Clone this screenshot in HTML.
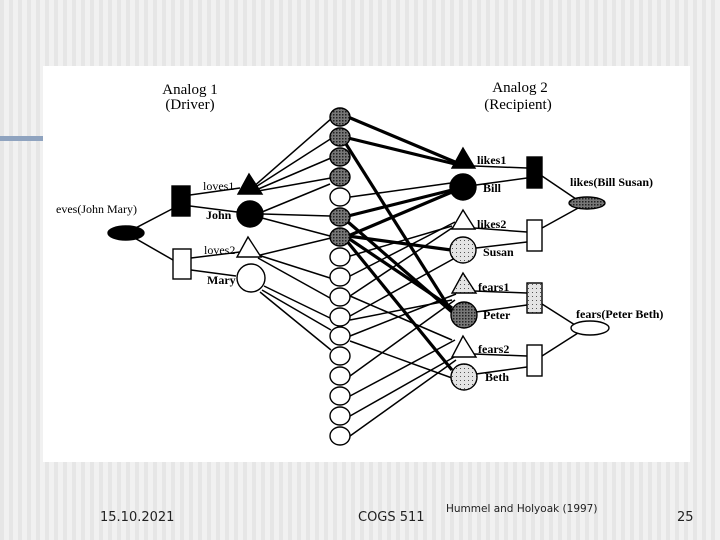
<!DOCTYPE html>
<html><head><style>
html,body{margin:0;padding:0;}
body{width:720px;height:540px;overflow:hidden;position:relative;background:#efefef;
background-image:repeating-linear-gradient(90deg,#e6e6e6 0 4px,#f1f1f1 4px 9px);}
.ft{position:absolute;font-family:"DejaVu Sans","Liberation Sans",sans-serif;color:#222;}
</style></head><body>
<div style="position:absolute;left:0;top:136px;width:43px;height:5px;background:#8fa3bf"></div>
<svg style="position:absolute;left:0;top:0" width="720" height="540" viewBox="0 0 720 540">
<defs>
<pattern id="h" width="3" height="3" patternUnits="userSpaceOnUse"><rect width="3" height="3" fill="#777"/><rect width="1.5" height="1.5" fill="#222"/></pattern>
<pattern id="d" width="4" height="4" patternUnits="userSpaceOnUse"><rect width="4" height="4" fill="#e4e4e4"/><rect width="1" height="1" fill="#555"/></pattern>
</defs>
<rect x="43" y="66" width="647" height="396" fill="#fff"/>
<g font-family="Liberation Serif,serif" font-size="15" text-anchor="middle" fill="#000">
<text x="190" y="94">Analog 1</text><text x="190" y="109">(Driver)</text>
<text x="520" y="92">Analog 2</text><text x="518" y="109">(Recipient)</text>
</g>
<g stroke="#000" stroke-width="1.5" fill="none">
<line x1="126" y1="233" x2="172" y2="209"/><line x1="126" y1="233" x2="173" y2="260"/>
<line x1="190" y1="195" x2="240" y2="188"/><line x1="190" y1="206" x2="237" y2="212"/>
<line x1="191" y1="258" x2="240" y2="252"/><line x1="191" y1="270" x2="236" y2="276"/>
<line x1="252" y1="188" x2="332" y2="118"/><line x1="254" y1="188" x2="332" y2="138"/>
<line x1="256" y1="190" x2="331" y2="158"/><line x1="258" y1="191" x2="331" y2="178"/>
<line x1="262" y1="212" x2="330" y2="184"/><line x1="263" y1="214" x2="330" y2="216"/><line x1="262" y1="218" x2="330" y2="236"/>
<line x1="258" y1="255" x2="330" y2="278"/><line x1="258" y1="258" x2="330" y2="298"/><line x1="256" y1="256" x2="331" y2="238"/>
<line x1="262" y1="290" x2="331" y2="330"/><line x1="260" y1="292" x2="331" y2="350"/><line x1="264" y1="286" x2="330" y2="318"/>
<line x1="350" y1="197" x2="451" y2="183"/>
<line x1="350" y1="276" x2="455" y2="222"/><line x1="350" y1="296" x2="455" y2="226"/>
<line x1="350" y1="316" x2="455" y2="258"/><line x1="350" y1="336" x2="456" y2="294"/>
<line x1="350" y1="376" x2="455" y2="300"/><line x1="350" y1="396" x2="455" y2="340"/>
<line x1="350" y1="416" x2="456" y2="356"/><line x1="350" y1="436" x2="456" y2="360"/>
<line x1="350" y1="256" x2="452" y2="226"/>
<line x1="350" y1="296" x2="452" y2="340"/><line x1="350" y1="341" x2="452" y2="378"/>
<line x1="350" y1="320" x2="452" y2="300"/>
<line x1="474" y1="166" x2="527" y2="168"/><line x1="476" y1="185" x2="527" y2="178"/>
<line x1="474" y1="228" x2="527" y2="232"/><line x1="476" y1="248" x2="527" y2="242"/>
<line x1="474" y1="291" x2="527" y2="293"/><line x1="476" y1="312" x2="527" y2="305"/>
<line x1="474" y1="354" x2="527" y2="356"/><line x1="476" y1="374" x2="527" y2="367"/>
<line x1="542" y1="176" x2="576" y2="199"/><line x1="542" y1="228" x2="580" y2="207"/>
<line x1="542" y1="304" x2="575" y2="325"/><line x1="542" y1="356" x2="578" y2="333"/>
</g>
<g stroke="#000" stroke-width="3.2" fill="none">
<line x1="348" y1="117" x2="455" y2="162"/><line x1="348" y1="138" x2="455" y2="164"/>
<line x1="346" y1="144" x2="452" y2="312"/><line x1="348" y1="216" x2="452" y2="190"/>
<line x1="348" y1="236" x2="452" y2="192"/><line x1="348" y1="236" x2="451" y2="250"/>
<line x1="348" y1="238" x2="452" y2="308"/><line x1="348" y1="222" x2="452" y2="312"/>
<line x1="346" y1="240" x2="452" y2="370"/>
</g>
<g stroke="#000" stroke-width="1.4">
<ellipse cx="340" cy="117" rx="10" ry="9" fill="url(#h)"/>
<ellipse cx="340" cy="137" rx="10" ry="9" fill="url(#h)"/>
<ellipse cx="340" cy="157" rx="10" ry="9" fill="url(#h)"/>
<ellipse cx="340" cy="177" rx="10" ry="9" fill="url(#h)"/>
<ellipse cx="340" cy="197" rx="10" ry="9" fill="#fff"/>
<ellipse cx="340" cy="217" rx="10" ry="9" fill="url(#h)"/>
<ellipse cx="340" cy="237" rx="10" ry="9" fill="url(#h)"/>
<ellipse cx="340" cy="257" rx="10" ry="9" fill="#fff"/>
<ellipse cx="340" cy="277" rx="10" ry="9" fill="#fff"/>
<ellipse cx="340" cy="297" rx="10" ry="9" fill="#fff"/>
<ellipse cx="340" cy="317" rx="10" ry="9" fill="#fff"/>
<ellipse cx="340" cy="336" rx="10" ry="9" fill="#fff"/>
<ellipse cx="340" cy="356" rx="10" ry="9" fill="#fff"/>
<ellipse cx="340" cy="376" rx="10" ry="9" fill="#fff"/>
<ellipse cx="340" cy="396" rx="10" ry="9" fill="#fff"/>
<ellipse cx="340" cy="416" rx="10" ry="9" fill="#fff"/>
<ellipse cx="340" cy="436" rx="10" ry="9" fill="#fff"/>
<ellipse cx="126" cy="233" rx="18" ry="7" fill="#000"/>
<rect x="172" y="186" width="18" height="30" fill="#000"/>
<rect x="173" y="249" width="18" height="30" fill="#fff"/>
<polygon points="249,174 238,194 262,194" fill="#000"/>
<circle cx="250" cy="214" r="13" fill="#000"/>
<polygon points="248,237 237,257 261,257" fill="#fff"/>
<circle cx="251" cy="278" r="14" fill="#fff"/>
<polygon points="463,148 452,168 475,168" fill="#000"/>
<circle cx="463" cy="187" r="13" fill="#000"/>
<polygon points="463,210 452,229 475,229" fill="#fff"/>
<circle cx="463" cy="250" r="13" fill="url(#d)"/>
<polygon points="463,273 452,293 476,293" fill="url(#d)"/>
<circle cx="464" cy="315" r="13" fill="url(#h)"/>
<polygon points="463,336 452,357 476,357" fill="#fff"/>
<circle cx="464" cy="377" r="13" fill="url(#d)"/>
<rect x="527" y="157" width="15" height="31" fill="#000"/>
<rect x="527" y="220" width="15" height="31" fill="#fff"/>
<rect x="527" y="283" width="15" height="30" fill="url(#d)"/>
<rect x="527" y="345" width="15" height="31" fill="#fff"/>
<ellipse cx="587" cy="203" rx="18" ry="6" fill="url(#h)"/>
<ellipse cx="590" cy="328" rx="19" ry="7" fill="#fff"/>
</g>
<g font-family="Liberation Serif,serif" font-size="12" fill="#000" font-weight="bold">
<text x="56" y="213" font-weight="normal">eves(John Mary)</text>
<text x="203" y="190" font-weight="normal">loves1</text>
<text x="206" y="219">John</text>
<text x="204" y="254" font-weight="normal">loves2</text>
<text x="207" y="284">Mary</text>
<text x="477" y="164">likes1</text>
<text x="483" y="192">Bill</text>
<text x="477" y="228">likes2</text>
<text x="483" y="256">Susan</text>
<text x="478" y="291">fears1</text>
<text x="483" y="319">Peter</text>
<text x="478" y="353">fears2</text>
<text x="485" y="381">Beth</text>
<text x="570" y="186">likes(Bill Susan)</text>
<text x="576" y="318">fears(Peter Beth)</text>
</g>
</svg>
<div class="ft" style="left:100px;top:510px;font-size:13px">15.10.2021</div>
<div class="ft" style="left:358px;top:510px;font-size:13px">COGS 511</div>
<div class="ft" style="left:446px;top:503px;font-size:10.5px">Hummel and Holyoak (1997)</div>
<div class="ft" style="left:677px;top:510px;font-size:13px">25</div>
</body></html>
